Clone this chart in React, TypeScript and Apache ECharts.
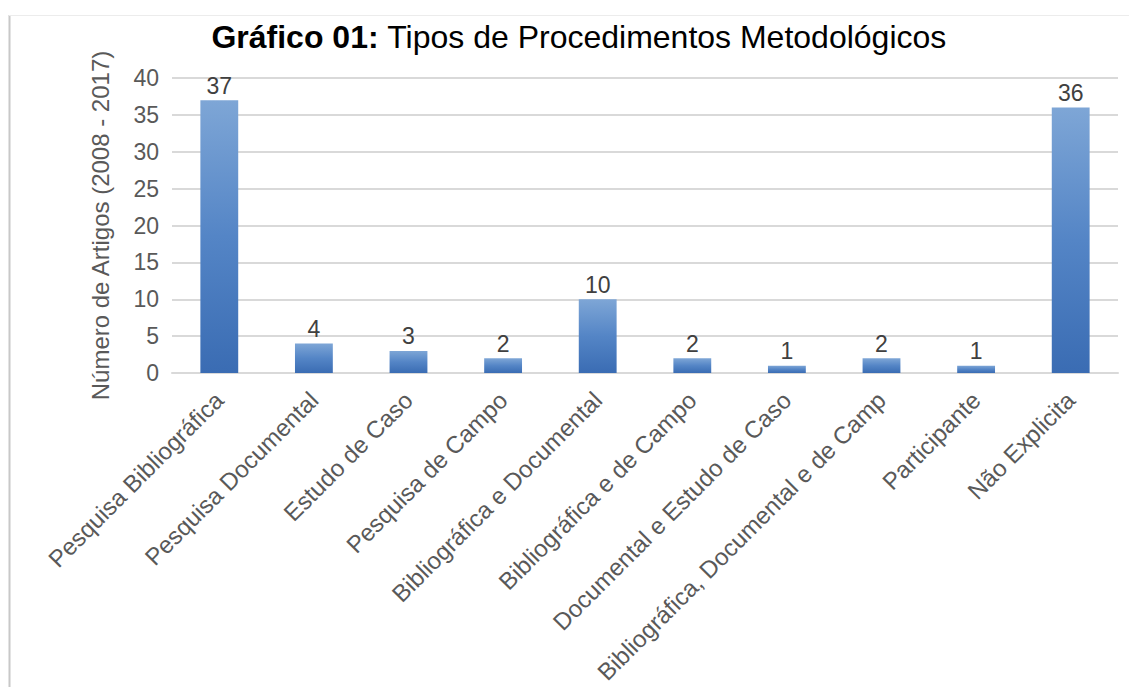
import React, { useEffect, useRef } from "react";
import * as echarts from "echarts";

const categories = [
  "Pesquisa Bibliográfica",
  "Pesquisa Documental",
  "Estudo de Caso",
  "Pesquisa de Campo",
  "Bibliográfica e Documental",
  "Bibliográfica e de Campo",
  "Documental e Estudo de Caso",
  "Bibliográfica, Documental e de Campo",
  "Participante",
  "Não Explicita",
];
const values = [37, 4, 3, 2, 10, 2, 1, 2, 1, 36];
const yAxisName = "Número de Artigos (2008 - 2017)";
const titleBold = "Gráfico 01:";
const titleRest = " Tipos de Procedimentos Metodológicos";

const FONT = "'Liberation Sans', Arial, sans-serif";

export default function App() {
  const ref = useRef<HTMLDivElement>(null);
  useEffect(() => {
    document.body.style.margin = "0";
    const chart = echarts.init(ref.current!, null, { renderer: "svg" });
    chart.setOption({
      animation: false,
      backgroundColor: "#ffffff",
      textStyle: { fontFamily: FONT },
      title: {
        text: `{b|${titleBold}}{n|${titleRest}}`,
        left: 574,
        textAlign: "center",
        top: 16,
        textStyle: {
          fontWeight: "normal",
          rich: {
            b: { fontFamily: FONT, fontSize: 32, fontWeight: "bold", color: "#000000" },
            n: { fontFamily: FONT, fontSize: 32, fontWeight: "normal", color: "#000000" },
          },
        },
      },
      graphic: [
        { type: "line", shape: { x1: 9.5, y1: 15, x2: 9.5, y2: 687 }, style: { stroke: "#c8c8c8", lineWidth: 2 } },
        { type: "line", shape: { x1: 9, y1: 15.5, x2: 1129, y2: 15.5 }, style: { stroke: "#ececec", lineWidth: 1 } },
      ],
      grid: { left: 172, right: 11, top: 78, bottom: 314, containLabel: false, outerBoundsMode: "none" },
      xAxis: {
        type: "category",
        data: categories,
        axisLine: { lineStyle: { color: "#d9d9d9", width: 2 } },
        axisTick: { show: false },
        axisLabel: {
          rotate: 45,
          interval: 0,
          margin: 23,
          fontSize: 24,
          color: "#595959",
          fontFamily: FONT,
          width: 400,
          overflow: "truncate",
          ellipsis: "",
        },
      },
      yAxis: {
        type: "value",
        min: 0,
        max: 40,
        interval: 5,
        name: yAxisName,
        nameLocation: "middle",
        nameGap: 60,
        nameTextStyle: { fontSize: 24, color: "#595959", fontFamily: FONT },
        axisLine: { show: false },
        axisTick: { show: false },
        axisLabel: { fontSize: 23, color: "#595959", margin: 13, fontFamily: FONT },
        splitLine: { lineStyle: { color: "#d9d9d9", width: 2 } },
      },
      series: [
        {
          type: "bar",
          data: values,
          barWidth: "40%",
          itemStyle: {
            color: new echarts.graphic.LinearGradient(0, 0, 0, 1, [
              { offset: 0, color: "#7ea6d6" },
              { offset: 0.5, color: "#5485c6" },
              { offset: 1, color: "#3a6cb3" },
            ]),
          },
          label: {
            show: true,
            position: "top",
            distance: 3,
            fontSize: 23,
            color: "#404040",
            fontFamily: FONT,
          },
        },
      ],
    });
    return () => chart.dispose();
  }, []);
  return <div ref={ref} style={{ position: "absolute", left: 0, top: 0, width: 1129, height: 687 }} />;
}
